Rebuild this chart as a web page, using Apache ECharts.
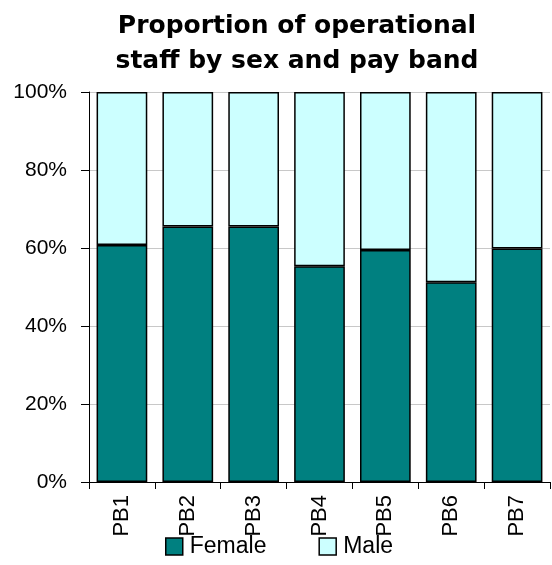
<!DOCTYPE html>
<html>
<head>
<meta charset="utf-8">
<script src="https://cdn.jsdelivr.net/npm/echarts@6/dist/echarts.min.js"></script>
<style>
  html, body { margin: 0; padding: 0; background: #fff; }
  #chart { width: 552px; height: 565px; }
</style>
</head>
<body>
<div id="chart"></div>
<script>
// Pay bands and the female/male shares (percent) in each band
const payBands = ['PB1', 'PB2', 'PB3', 'PB4', 'PB5', 'PB6', 'PB7'];
const femaleShare = [60.8, 65.5, 65.5, 55.3, 59.5, 51.2, 59.9];
const maleShare = [39.2, 34.5, 34.5, 44.7, 40.5, 48.8, 40.1];
const yTicks = [0, 20, 40, 60, 80, 100];

const REGULAR = "'Liberation Sans', sans-serif";
const chart = echarts.init(document.getElementById('chart'), null, { renderer: 'canvas' });

const barStyle = (color) => ({ color: color, borderColor: '#000', borderWidth: 1.5 });

chart.setOption({
  animation: false,
  title: {
    text: 'Proportion of operational\nstaff by sex and pay band',
    left: 292,
    textAlign: 'center',
    top: 4,
    textStyle: {
      fontFamily: 'DejaVu Sans',
      fontWeight: 'bold',
      fontSize: 25,
      lineHeight: 35,
      color: '#000'
    }
  },
  legend: {
    bottom: 2,
    left: 160,
    itemWidth: 17,
    itemHeight: 17,
    itemGap: 52,
    icon: 'rect',
    textStyle: { fontFamily: REGULAR, fontSize: 23, color: '#000', padding: [0, 0, 0, 2] },
    data: [
      { name: 'Female', itemStyle: barStyle('#008080') },
      { name: 'Male', itemStyle: barStyle('#CCFFFF') }
    ]
  },
  grid: { left: 89, right: 2, top: 92, bottom: 83 },
  xAxis: {
    type: 'category',
    data: payBands,
    axisLine: { lineStyle: { color: '#000', width: 1 } },
    axisTick: { show: true, length: 7, lineStyle: { color: '#000' } },
    axisLabel: {
      rotate: 90,
      margin: 13,
      fontFamily: REGULAR,
      fontSize: 22,
      color: '#000'
    }
  },
  yAxis: {
    type: 'value',
    min: yTicks[0],
    max: yTicks[yTicks.length - 1],
    interval: yTicks[1] - yTicks[0],
    axisLine: { show: true, lineStyle: { color: '#000', width: 1 } },
    axisTick: { show: true, length: 8, lineStyle: { color: '#000' } },
    splitLine: { lineStyle: { color: '#c8c8c8', width: 1 } },
    axisLabel: {
      formatter: (v) => v + '%',
      margin: 22,
      fontFamily: REGULAR,
      fontSize: 21,
      color: '#000'
    }
  },
  series: [
    {
      name: 'Female',
      type: 'bar',
      stack: 'share',
      barCategoryGap: '23%',
      data: femaleShare,
      itemStyle: barStyle('#008080')
    },
    {
      name: 'Male',
      type: 'bar',
      stack: 'share',
      data: maleShare,
      itemStyle: barStyle('#CCFFFF')
    }
  ]
});
</script>
</body>
</html>
